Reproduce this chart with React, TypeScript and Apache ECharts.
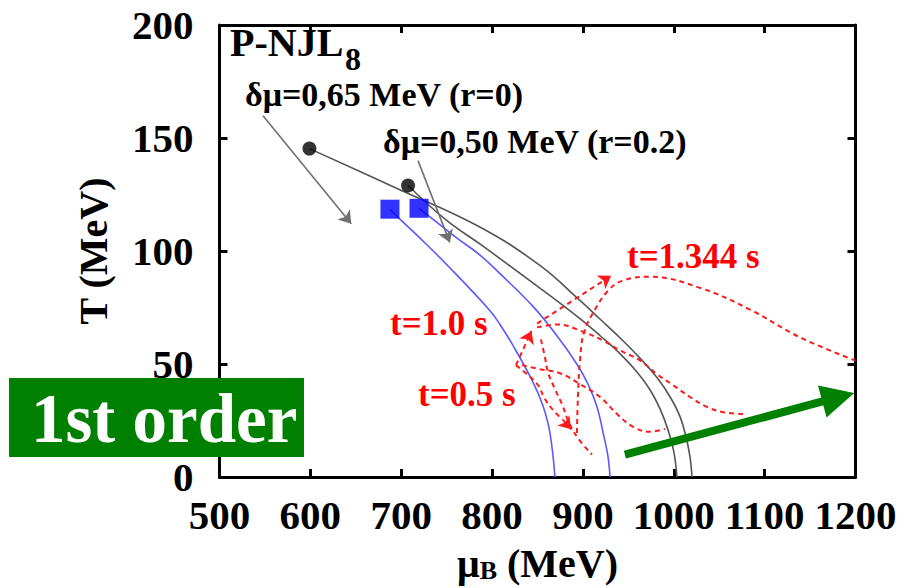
import React, { useEffect, useRef } from 'react';
import * as echarts from 'echarts';

// ---- data (x: mu_B in MeV, y: T in MeV) ----
const cepPoints = [[599, 145.3], [707.5, 129.0]];
const blueSquares = [[687.6, 118.5], [719.6, 118.9]];

const blackOuter = [[599, 145.3], [693, 128.1], [787, 110.5], [853, 93.5], [897, 78.0], [919, 69.8], [941, 61.5], [963, 52.5], [981.5, 44.0], [996, 35.4], [1007, 26.6], [1013.4, 17.8], [1017.8, 9.0], [1020, 0]];
const blackInner = [[707.5, 129.0], [750, 113.5], [787, 103.0], [853, 83.5], [897, 70.0], [919, 62.5], [941, 54.5], [959.5, 46.5], [974, 38.5], [985, 30.0], [993.6, 20.9], [1000, 11.2], [1003.5, 0]];
const blueInner = [[687.6, 118.5], [698.6, 114.1], [720.7, 105.7], [753.7, 92.5], [797.7, 73.6], [808.7, 67.5], [823, 58.2], [845, 42.0], [856, 31.5], [863.7, 19.5], [869.2, 0]];
const blueOuter = [[719.6, 118.9], [730.6, 115.4], [761.4, 105.7], [786.7, 98.2], [808.7, 90.0], [845, 75.5], [871.4, 62.5], [893.4, 49.9], [905.6, 41.1], [915.5, 31.0], [923.2, 17.8], [927.6, 9.0], [929.8, 0]];

const redLoop = [[893.4, 19.5], [894.5, 35.4], [896.8, 51.6], [901.2, 64.0], [913.3, 74.1], [927.6, 82.4], [943, 86.8], [973.8, 88.6], [1028.8, 83.7], [1083.9, 74.1], [1138.9, 61.8], [1200, 51.5]];
const redUpper = [[849.5, 66.2], [872.6, 67.5], [896.8, 64.8], [922.1, 60.4], [940.8, 56.0], [962.8, 51.6], [981.5, 45.5], [999.1, 40.7], [1017.8, 35.4], [1036.6, 31.0], [1053.1, 28.8], [1076.2, 27.9]];
const redLower = [[833, 49.5], [852.8, 47.7], [874.8, 45.9], [896.8, 41.1], [918.8, 35.4], [937.5, 27.9], [955.1, 22.2], [973.8, 20.0], [990.3, 21.3]];
const redDescend = [[853.8, 60.9], [858.2, 53.0], [861.5, 46.4], [869.2, 38.9], [876.9, 32.3], [885.7, 23.1], [896.8, 16.0], [910, 9.9]];
const redLeft = [[826.3, 49.5], [839.5, 45.1], [850.5, 40.7], [858.2, 34.5], [867, 29.7], [878, 25.3]];
const redLeftHead = [[878, 25.3], [887, 21.1]];

const redArrowUp = [[826.3, 49.5], [843.4, 64.6]];
const redArrowToLate = [[849.5, 67.9], [931, 89.0]];
const greyArrowR0 = [[547.9, 159.8], [645.0, 112.1]];
const greyArrowR02 = [[718.5, 140.0], [753.5, 103.8]];
const greenArrow = [[946.2, 9.9], [1181, 35.3]];

const FONT = 'Liberation Serif';

function curve(data: number[][], color: string, dashed: boolean, width = 1.6) {
  return {
    type: 'line', data, symbol: 'none', smooth: 0.4, silent: true,
    lineStyle: { color, width, type: dashed ? [5, 4] : 'solid' },
    z: 3,
  };
}

function arrow(coords: number[][], color: string, width: number, size: number[], dashed: boolean, sym = 'arrow') {
  return {
    type: 'lines', coordinateSystem: 'cartesian2d', xAxisIndex: 0, yAxisIndex: 0, silent: true,
    symbol: ['none', sym], symbolSize: size,
    lineStyle: { color, width, opacity: 1, curveness: 0, type: dashed ? [5, 4] : 'solid' },
    data: [{ coords }], z: 5,
  };
}

const axisCommon = {
  type: 'value',
  axisLine: { show: true, onZero: false, lineStyle: { color: '#000', width: 3 } },
  axisTick: { show: true, inside: true, length: 8, lineStyle: { color: '#000', width: 3 } },
  splitLine: { show: false },
};

const labelFont = { fontFamily: FONT, fontWeight: 'bold', fontSize: 41, color: '#000' };

export default function App() {
  const ref = useRef<HTMLDivElement>(null);
  useEffect(() => {
    if (!ref.current) return;
    const chart = echarts.init(ref.current, undefined, { renderer: 'svg' });
    const option: any = {
      animation: false,
      backgroundColor: '#fff',
      textStyle: { fontFamily: FONT },
      grid: { left: 219.5, right: 56.5, top: 25, bottom: 107.5 },
      xAxis: [
        {
          ...axisCommon, min: 500, max: 1200, interval: 100, position: 'bottom',
          axisLabel: { ...labelFont, margin: 17, showMaxLabel: true, showMinLabel: true, hideOverlap: false, formatter: (v: number) => String(v) },
          name: '{m|μ}{s|B}{m| (MeV)}', nameLocation: 'middle', nameGap: 62,
          nameTextStyle: {
            rich: {
              m: { ...labelFont, fontSize: 40, lineHeight: 44, verticalAlign: 'bottom' },
              s: { ...labelFont, fontSize: 26, lineHeight: 12, verticalAlign: 'bottom' },
            },
          },
        },
        { ...axisCommon, min: 500, max: 1200, interval: 100, position: 'top', axisLabel: { show: false } },
      ],
      yAxis: [
        {
          ...axisCommon, min: 0, max: 200, interval: 50, position: 'left',
          axisLabel: { ...labelFont, margin: 26, showMaxLabel: true, showMinLabel: true, hideOverlap: false, formatter: (v: number) => String(v) },
          name: 'T (MeV)', nameLocation: 'middle', nameGap: 106, nameRotate: 90,
          nameTextStyle: { ...labelFont, fontSize: 40 },
        },
        { ...axisCommon, min: 0, max: 200, interval: 50, position: 'right', axisLabel: { show: false } },
      ],
      series: [
        curve(blackOuter, '#555555', false),
        curve(blackInner, '#555555', false),
        curve(blueInner, '#5a5aff', false),
        curve(blueOuter, '#5a5aff', false),
        curve(redLoop, '#ff1a1a', true, 2),
        curve(redUpper, '#ff1a1a', true, 2),
        curve(redLower, '#ff1a1a', true, 2),
        curve(redDescend, '#ff1a1a', true, 2),
        curve(redLeft, '#ff1a1a', true, 2),
        arrow(redLeftHead, '#ff1a1a', 2, [9, 12], false),
        arrow(redArrowUp, '#ff1a1a', 2, [9, 12], true),
        arrow(redArrowToLate, '#ff1a1a', 2, [9, 12], true),
        arrow(greyArrowR0, '#707070', 1.6, [8, 12], false),
        arrow(greyArrowR02, '#707070', 1.6, [8, 12], false),
        {
          type: 'scatter', data: cepPoints, symbol: 'circle', symbolSize: 14, silent: true,
          itemStyle: { color: '#000' }, z: 6,
        },
        {
          type: 'scatter', data: blueSquares, symbol: 'rect', symbolSize: 19, silent: true,
          itemStyle: { color: '#0000ff' }, z: 6,
        },
        arrow(greenArrow, '#008000', 8, [22, 33], false, 'triangle'),
      ],
      graphic: [
        { type: 'text', x: 230, y: 42, z: 10, style: { text: 'P-NJL', fontFamily: FONT, fontWeight: 'bold', fontSize: 40, fill: '#000', align: 'left', verticalAlign: 'middle' } },
        { type: 'text', x: 345, y: 59, z: 10, style: { text: '8', fontFamily: FONT, fontWeight: 'bold', fontSize: 32, fill: '#000', align: 'left', verticalAlign: 'middle' } },
        { type: 'text', x: 245, y: 94, z: 10, style: { text: 'δμ=0,65 MeV (r=0)', fontFamily: FONT, fontWeight: 'bold', fontSize: 34, fill: '#000', align: 'left', verticalAlign: 'middle' } },
        { type: 'text', x: 383, y: 141, z: 10, style: { text: 'δμ=0,50 MeV (r=0.2)', fontFamily: FONT, fontWeight: 'bold', fontSize: 34, fill: '#000', align: 'left', verticalAlign: 'middle' } },
        { type: 'text', x: 627, y: 256, z: 10, style: { text: 't=1.344 s', fontFamily: FONT, fontWeight: 'bold', fontSize: 35, fill: '#ff0000', align: 'left', verticalAlign: 'middle' } },
        { type: 'text', x: 390, y: 323, z: 10, style: { text: 't=1.0 s', fontFamily: FONT, fontWeight: 'bold', fontSize: 35, fill: '#ff0000', align: 'left', verticalAlign: 'middle' } },
        { type: 'text', x: 418, y: 394, z: 10, style: { text: 't=0.5 s', fontFamily: FONT, fontWeight: 'bold', fontSize: 35, fill: '#ff0000', align: 'left', verticalAlign: 'middle' } },
        { type: 'rect', x: 9, y: 378, z: 20, shape: { width: 295, height: 79 }, style: { fill: '#008000' } },
        { type: 'text', x: 31, y: 419, z: 21, style: { text: '1st order', fontFamily: FONT, fontWeight: 'bold', fontSize: 69, fill: '#ffffff', align: 'left', verticalAlign: 'middle' } },
      ],
    };
    chart.setOption(option);
    return () => chart.dispose();
  }, []);
  return <div ref={ref} style={{ width: 912, height: 588, position: 'absolute', left: 0, top: 0 }} />;
}
